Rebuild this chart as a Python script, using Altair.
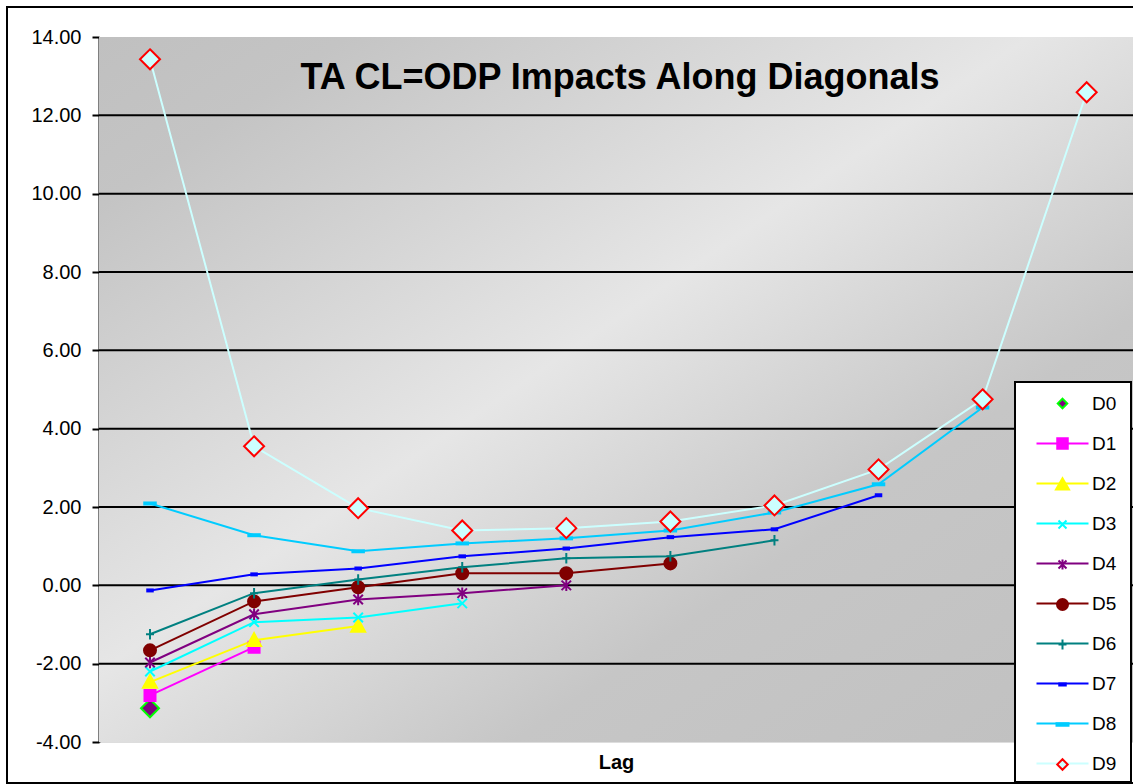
import altair as alt
import pandas as pd

# ---------------- data ----------------
series = ["D0", "D1", "D2", "D3", "D4", "D5", "D6", "D7", "D8", "D9"]
lags = [1, 2, 3, 4, 5, 6, 7, 8, 9, 10]
D0 = [-3.14]
D1 = [-2.81, -1.58]
D2 = [-2.47, -1.40, -1.04]
D3 = [-2.20, -0.94, -0.82, -0.46]
D4 = [-1.97, -0.74, -0.36, -0.20, 0.00]
D5 = [-1.66, -0.41, -0.05, 0.31, 0.31, 0.56]
D6 = [-1.25, -0.20, 0.15, 0.46, 0.69, 0.74, 1.15]
D7 = [-0.13, 0.28, 0.43, 0.74, 0.94, 1.23, 1.43, 2.30]
D8 = [2.09, 1.28, 0.87, 1.07, 1.20, 1.40, 1.86, 2.58, 4.54]
D9 = [13.43, 3.55, 1.97, 1.40, 1.46, 1.63, 2.04, 2.96, 4.75, 12.59]
values = [D0, D1, D2, D3, D4, D5, D6, D7, D8, D9]
y_ticks = [-4, -2, 0, 2, 4, 6, 8, 10, 12, 14]
grid_vals = [-2, 0, 2, 4, 6, 8, 10, 12]

line_colors = ["transparent", "#FF00FF", "#FFFF00", "#00FFFF", "#800080",
               "#800000", "#008080", "#0000FF", "#00CCFF", "#CCFFFF"]
fill_colors = ["#800080", "#FF00FF", "#FFFF00", "#00FFFF", "#800080",
               "#800000", "#008080", "#0000FF", "#00CCFF", "#CCFFFF"]
stroke_colors = ["#00FF00", "#FF00FF", "#FFFF00", "#00FFFF", "#800080",
                 "#800000", "#008080", "#0000FF", "#00CCFF", "#FF0000"]

# marker shapes (unit = sqrt(size)/2 px)
chart_shapes = [
    "M0,-1.8L1.8,0L0,1.8L-1.8,0Z",
    "M-1.1,-1.1H1.1V1.1H-1.1Z",
    "M0,-1.4L1.4,1.15H-1.4Z",
    "M-0.95,-0.95L0.95,0.95M-0.95,0.95L0.95,-0.95",
    "M-0.95,-0.95L0.95,0.95M-0.95,0.95L0.95,-0.95M0,-1.15V1.15",
    "M-1.2,0A1.2,1.2 0 1,0 1.2,0A1.2,1.2 0 1,0 -1.2,0Z",
    "M-0.8,0H0.8M0,-1.05V1.05",
    "M-0.55,-0.2H0.55V0.2H-0.55Z",
    "M-1.15,-0.2H1.15V0.2H-1.15Z",
    "M0,-2L2,0L0,2L-2,0Z",
]
span = "M-5.2,0M5.2,0"
legend_markers = [
    "M0,-0.95L0.95,0L0,0.95L-0.95,0Z",
    "M-1.05,-1.05H1.05V1.05H-1.05Z",
    "M0,-1.25L1.3,1H-1.3Z",
    "M-0.8,-0.8L0.8,0.8M-0.8,0.8L0.8,-0.8",
    "M-0.8,-0.8L0.8,0.8M-0.8,0.8L0.8,-0.8M0,-1V1",
    "M-1.1,0A1.1,1.1 0 1,0 1.1,0A1.1,1.1 0 1,0 -1.1,0Z",
    "M-0.8,0H0.8M0,-1V1",
    "M-0.65,-0.22H0.65V0.22H-0.65Z",
    "M-1.2,-0.27H1.2V0.27H-1.2Z",
    "M0,-1.05L1.05,0L0,1.05L-1.05,0Z",
]
legend_marker_paths = [span + m for m in legend_markers]
legend_line_paths = [span] + ["M-5.2,0H5.2"] * 9

rows = []
for s, vals in zip(series, values):
    for lag, v in zip(lags, vals):
        rows.append({"series": s, "lag": lag, "value": v})
df = pd.DataFrame(rows)

# ---------------- layout ----------------
W, H = 1034, 705
FONT = "Liberation Sans"

yscale = alt.Scale(domain=[-4, 14], nice=False, zero=False)
xscale = alt.Scale(domain=[0.51, 10.445], nice=False, zero=False)
yaxis = alt.Axis(values=y_ticks,
                 labelExpr="datum.value < 0 ? '-' + format(-datum.value, '.2f') : format(datum.value, '.2f')",
                 labelFontSize=20, labelFont=FONT,
                 labelColor="black", tickColor="black", tickSize=7, tickWidth=2,
                 domainColor="black", domainWidth=2, grid=False, title=None,
                 labelPadding=11, labelOverlap=False)
xaxis = alt.Axis(labels=False, ticks=False, domain=False, grid=False, title="Lag",
                 titleFont=FONT, titleFontSize=20, titleFontWeight="bold",
                 titleColor="black", titlePadding=26, titleBaseline="alphabetic")

one = alt.Data(values=[{}])

background = alt.Chart(one).mark_rect(
    fill=alt.LinearGradient(
        gradient="linear",
        stops=[
            alt.GradientStop(color="#C0C0C0", offset=0),
            alt.GradientStop(color="#C4C4C4", offset=0.12),
            alt.GradientStop(color="#E6E6E6", offset=0.45),
            alt.GradientStop(color="#C6C6C6", offset=0.7),
            alt.GradientStop(color="#C0C0C0", offset=1),
        ],
        x1=0, y1=0, x2=1, y2=1,
    )
).encode(x=alt.value(0), x2=alt.value(W), y=alt.value(0), y2=alt.value(H))

grid = alt.Chart(pd.DataFrame({"g": grid_vals})).mark_rule(
    color="black", strokeWidth=2
).encode(y=alt.Y("g:Q", scale=yscale, axis=yaxis))

dom = series
lines = alt.Chart(df).mark_line(strokeWidth=2).encode(
    x=alt.X("lag:Q", scale=xscale, axis=xaxis),
    y=alt.Y("value:Q", scale=yscale, axis=yaxis),
    stroke=alt.Stroke("series:N", scale=alt.Scale(domain=dom, range=line_colors), legend=None),
    order="lag:Q",
)

points = alt.Chart(df).mark_point(filled=True, size=100, strokeWidth=2, opacity=1).encode(
    x=alt.X("lag:Q", scale=xscale, axis=xaxis),
    y=alt.Y("value:Q", scale=yscale, axis=yaxis),
    shape=alt.Shape("series:N", scale=alt.Scale(domain=dom, range=chart_shapes), legend=None),
    fill=alt.Fill("series:N", scale=alt.Scale(domain=dom, range=fill_colors), legend=None),
    stroke=alt.Stroke("series:N", scale=alt.Scale(domain=dom, range=stroke_colors), legend=None),
)

legend_box = alt.Chart(one).mark_rect(
    fill="white", stroke="black", strokeWidth=2
).encode(x=alt.value(916), x2=alt.value(1032), y=alt.value(345), y2=alt.value(745))

frame = alt.Chart(one).mark_rect(
    fillOpacity=0, stroke="black", strokeWidth=2
).encode(x=alt.value(-92), x2=alt.value(1040), y=alt.value(-30), y2=alt.value(746))

title = alt.Chart(one).mark_text(
    font=FONT, fontSize=36, fontWeight="bold", color="black",
    align="center", baseline="alphabetic"
).encode(x=alt.value(521), y=alt.value(52), text=alt.value("TA CL=ODP Impacts Along Diagonals"))

def leg(label_opacity):
    return alt.Legend(
        orient="none", legendX=928, legendY=357, title=None,
        labelFont=FONT, labelFontSize=19, labelColor="black", labelOpacity=label_opacity,
        symbolSize=100, symbolStrokeWidth=2, symbolOffset=26, labelOffset=20,
        rowPadding=20, padding=0, symbolLimit=0,
    )

legend_lines = alt.Chart(df).mark_point(filled=False, strokeWidth=2, opacity=1).encode(
    shape=alt.Shape("series:N", scale=alt.Scale(domain=dom, range=legend_line_paths), legend=leg(1)),
    stroke=alt.Stroke("series:N", scale=alt.Scale(domain=dom, range=line_colors), legend=leg(1)),
).transform_filter("false")

legend_marks = alt.Chart(df).mark_point(filled=True, strokeWidth=2, opacity=1).encode(
    shape=alt.Shape("series:N", scale=alt.Scale(domain=dom, range=legend_marker_paths), legend=leg(0)),
    fill=alt.Fill("series:N", scale=alt.Scale(domain=dom, range=fill_colors), legend=leg(0)),
    stroke=alt.Stroke("series:N", scale=alt.Scale(domain=dom, range=stroke_colors), legend=leg(0)),
).transform_filter("false")

chart = alt.layer(
    frame, background, grid, lines, points, legend_box, title, legend_lines, legend_marks
).resolve_scale(
    shape="independent", fill="independent", stroke="independent"
).properties(
    width=W, height=H,
    autosize=alt.AutoSizeParams(type="none"),
    padding={"left": 99, "top": 37, "right": 0, "bottom": 42},
    background="white",
).configure_view(
    stroke="#808080", strokeWidth=3
).configure(font=FONT)

chart.save("out.html", embed_options={"renderer": "svg", "actions": False})
